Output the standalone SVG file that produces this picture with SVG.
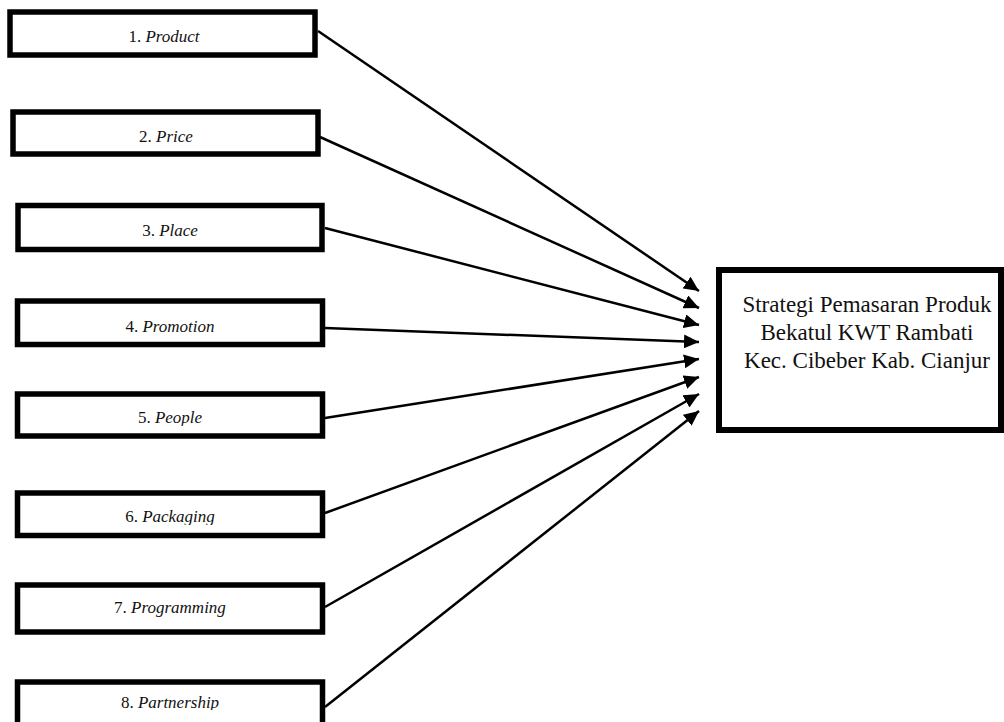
<svg xmlns="http://www.w3.org/2000/svg" width="1004" height="722" viewBox="0 0 1004 722">
  <style>
    .box { fill: #fff; stroke: #000; stroke-width: 5.5; }
    .lbl { font-family: "Liberation Serif", "Times New Roman", serif; font-size: 17px; fill: #111; text-anchor: middle; }
    .it { font-style: italic; }
    .main { font-family: "Liberation Serif", "Times New Roman", serif; font-size: 23px; fill: #111; text-anchor: middle; }
    .conn { stroke: #000; stroke-width: 2.5; fill: none; marker-end: url(#arr); }
  </style>
  <defs>
    <marker id="arr" markerUnits="userSpaceOnUse" markerWidth="16" markerHeight="14" refX="15" refY="7" orient="auto">
      <path d="M0,0 L15,7 L0,14 Z" fill="#000"/>
    </marker>
    <clipPath id="c5"><rect x="0" y="380" width="330" height="46"/></clipPath>
    <clipPath id="c6"><rect x="0" y="480" width="330" height="45"/></clipPath>
    <clipPath id="c8"><rect x="0" y="680" width="330" height="30"/></clipPath>
  </defs>
  <rect width="1004" height="722" fill="#fff"/>

  <g id="connectors">
    <line class="conn" x1="318" y1="31" x2="699" y2="291"/>
    <line class="conn" x1="320" y1="137" x2="699" y2="308"/>
    <line class="conn" x1="325" y1="228" x2="699" y2="325"/>
    <line class="conn" x1="325" y1="328" x2="699" y2="342"/>
    <line class="conn" x1="325" y1="418" x2="699" y2="359"/>
    <line class="conn" x1="325" y1="513" x2="699" y2="377"/>
    <line class="conn" x1="325" y1="607" x2="699" y2="394"/>
    <line class="conn" x1="325" y1="707" x2="699" y2="411"/>
  </g>

  <g id="n1">
    <rect class="box" x="10" y="12" width="305" height="43"/>
    <text class="lbl" x="164" y="42">1. <tspan class="it">Product</tspan></text>
  </g>
  <g id="n2">
    <rect class="box" x="13" y="112" width="305" height="42"/>
    <text class="lbl" x="166" y="142">2. <tspan class="it">Price</tspan></text>
  </g>
  <g id="n3">
    <rect class="box" x="18" y="205.5" width="304" height="44"/>
    <text class="lbl" x="170" y="236">3. <tspan class="it">Place</tspan></text>
  </g>
  <g id="n4">
    <rect class="box" x="17.5" y="301" width="305" height="43.5"/>
    <text class="lbl" x="170" y="332">4. <tspan class="it">Promotion</tspan></text>
  </g>
  <g id="n5">
    <rect class="box" x="17.5" y="394" width="305" height="42"/>
    <text class="lbl" x="170" y="423" clip-path="url(#c5)">5. <tspan class="it">People</tspan></text>
  </g>
  <g id="n6">
    <rect class="box" x="17.5" y="493" width="305" height="42.5"/>
    <text class="lbl" x="170" y="522" clip-path="url(#c6)">6. <tspan class="it">Packaging</tspan></text>
  </g>
  <g id="n7">
    <rect class="box" x="17.5" y="585" width="305" height="47"/>
    <text class="lbl" x="170" y="613">7. <tspan class="it">Programming</tspan></text>
  </g>
  <g id="n8">
    <rect class="box" x="17.5" y="682" width="305" height="60"/>
    <text class="lbl" x="170" y="708" clip-path="url(#c8)">8. <tspan class="it">Partnership</tspan></text>
  </g>

  <g id="target">
    <rect class="box" x="719" y="270" width="282" height="160" style="stroke-width:6"/>
    <text class="main" x="867" y="312">Strategi Pemasaran Produk</text>
    <text class="main" x="867" y="340">Bekatul KWT Rambati</text>
    <text class="main" x="867" y="368">Kec. Cibeber Kab. Cianjur</text>
  </g>
</svg>
